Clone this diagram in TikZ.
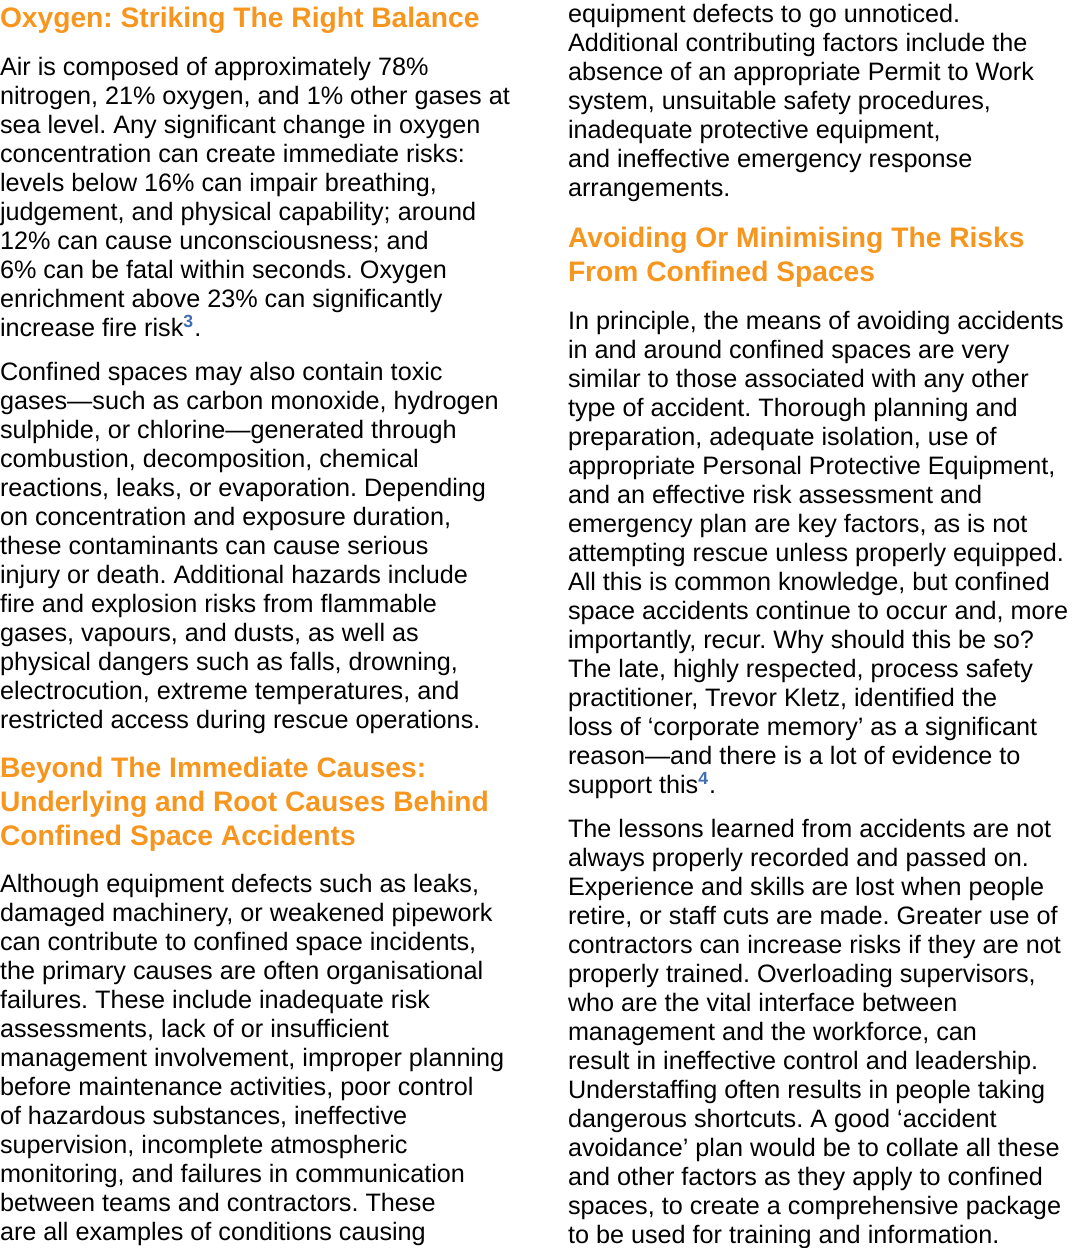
\documentclass[tikz,border=0pt]{standalone}
\usepackage{fontspec}
\setmainfont{Liberation Sans}
\usepackage{xcolor}
\definecolor{headorange}{HTML}{F7961E}
\definecolor{supblue}{HTML}{3D6DB5}
\usetikzlibrary{positioning}
\newcommand{\refmark}[1]{\textsuperscript{\textcolor{supblue}{\textbf{#1}}}}
\frenchspacing

\begin{document}
\begin{tikzpicture}[x=1pt,y=1pt,
  every node/.style={inner sep=0pt,outer sep=0pt,anchor=north west,align=left},
  heading/.style={font={\fontsize{14.1}{17}\selectfont\bfseries},text=headorange},
  body/.style={font={\fontsize{12.6}{14.5}\selectfont},text=black}]

\useasboundingbox (0,0) rectangle (540,-624);

% left column
\node[heading] (oxyhead) at (0,-3.5) {Oxygen: Striking The Right Balance};
\node[body] (oxytext) at (0,-28.5) {Air is composed of approximately 78\%\\
nitrogen, 21\% oxygen, and 1\% other gases at\\
sea level. Any significant change in oxygen\\
concentration can create immediate risks:\\
levels below 16\% can impair breathing,\\
judgement, and physical capability; around\\
12\% can cause unconsciousness; and\\
6\% can be fatal within seconds. Oxygen\\
enrichment above 23\% can significantly\\
increase fire risk\refmark{3}.};
\node[body] (toxictext) at (0,-181) {Confined spaces may also contain toxic\\
gases—such as carbon monoxide, hydrogen\\
sulphide, or chlorine—generated through\\
combustion, decomposition, chemical\\
reactions, leaks, or evaporation. Depending\\
on concentration and exposure duration,\\
these contaminants can cause serious\\
injury or death. Additional hazards include\\
fire and explosion risks from flammable\\
gases, vapours, and dusts, as well as\\
physical dangers such as falls, drowning,\\
electrocution, extreme temperatures, and\\
restricted access during rescue operations.};
\node[heading] (causehead) at (0,-378.5) {Beyond The Immediate Causes:\\
Underlying and Root Causes Behind\\
Confined Space Accidents};
\node[body] (causetext) at (0,-437) {Although equipment defects such as leaks,\\
damaged machinery, or weakened pipework\\
can contribute to confined space incidents,\\
the primary causes are often organisational\\
failures. These include inadequate risk\\
assessments, lack of or insufficient\\
management involvement, improper planning\\
before maintenance activities, poor control\\
of hazardous substances, ineffective\\
supervision, incomplete atmospheric\\
monitoring, and failures in communication\\
between teams and contractors. These\\
are all examples of conditions causing};

% right column
\node[body] (causemore) at (284,-2) {equipment defects to go unnoticed.\\
Additional contributing factors include the\\
absence of an appropriate Permit to Work\\
system, unsuitable safety procedures,\\
inadequate protective equipment,\\
and ineffective emergency response\\
arrangements.};
\node[heading] (avoidhead) at (284,-113.5) {Avoiding Or Minimising The Risks\\
From Confined Spaces};
\node[body] (avoidtext) at (284,-155.5) {In principle, the means of avoiding accidents\\
in and around confined spaces are very\\
similar to those associated with any other\\
type of accident. Thorough planning and\\
preparation, adequate isolation, use of\\
appropriate Personal Protective Equipment,\\
and an effective risk assessment and\\
emergency plan are key factors, as is not\\
attempting rescue unless properly equipped.\\
All this is common knowledge, but confined\\
space accidents continue to occur and, more\\
importantly, recur. Why should this be so?\\
The late, highly respected, process safety\\
practitioner, Trevor Kletz, identified the\\
loss of ‘corporate memory’ as a significant\\
reason—and there is a lot of evidence to\\
support this\refmark{4}.};
\node[body] (lessontext) at (284,-409.5) {The lessons learned from accidents are not\\
always properly recorded and passed on.\\
Experience and skills are lost when people\\
retire, or staff cuts are made. Greater use of\\
contractors can increase risks if they are not\\
properly trained. Overloading supervisors,\\
who are the vital interface between\\
management and the workforce, can\\
result in ineffective control and leadership.\\
Understaffing often results in people taking\\
dangerous shortcuts. A good ‘accident\\
avoidance’ plan would be to collate all these\\
and other factors as they apply to confined\\
spaces, to create a comprehensive package\\
to be used for training and information.};

\end{tikzpicture}
\end{document}
